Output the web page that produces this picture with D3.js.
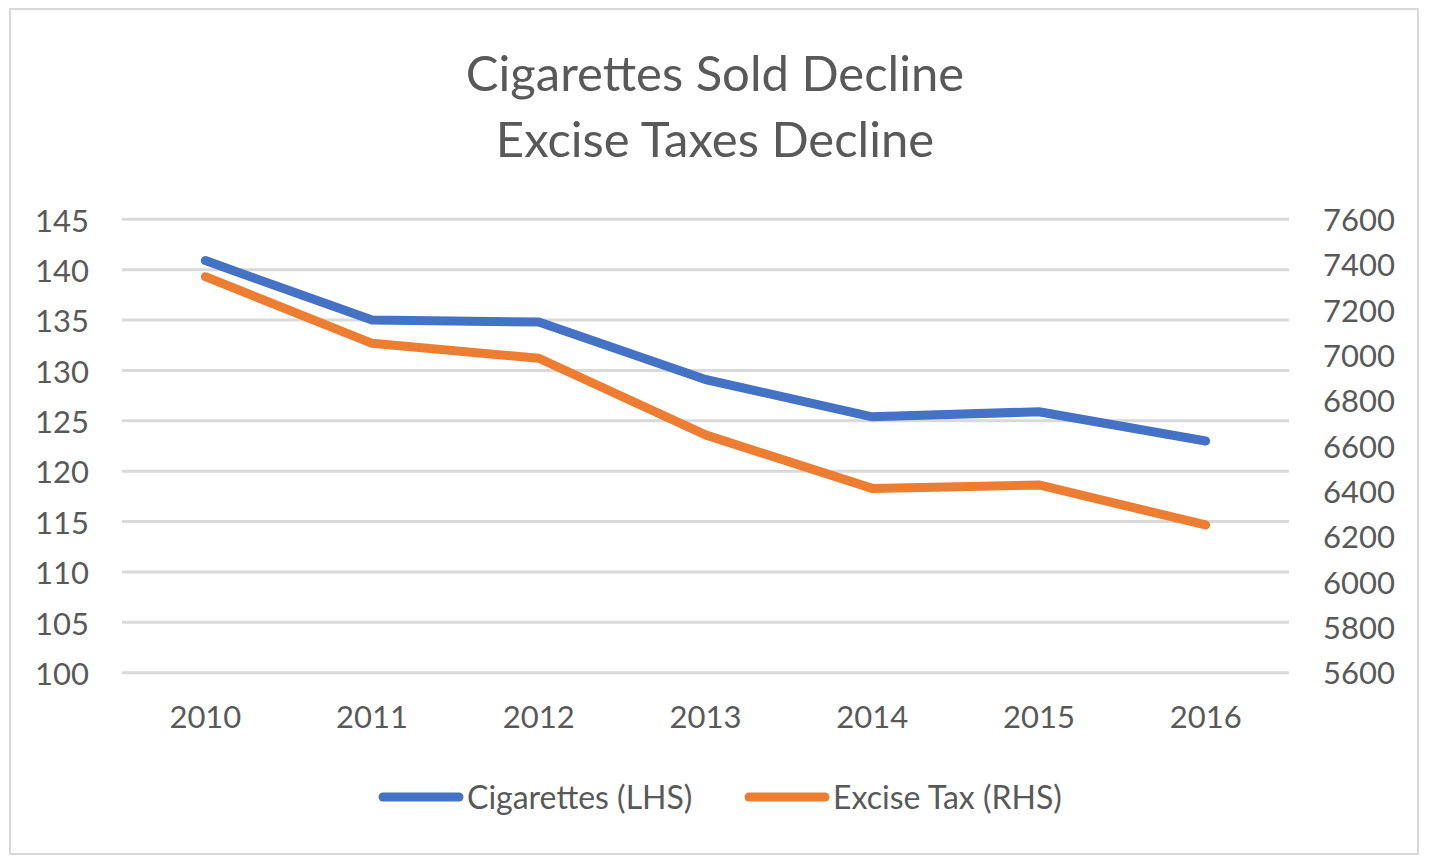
<!DOCTYPE html>
<html>
<head>
<meta charset="utf-8">
<script src="https://cdn.jsdelivr.net/npm/d3@7"></script>
<style>
  html, body { margin: 0; padding: 0; background: #fff; }
  svg { display: block; }
  text { font-family: Lato, "Open Sans", sans-serif; fill: #595959; }
</style>
</head>
<body>
<svg id="chart" width="1429" height="865"></svg>
<script>
const years = ["2010", "2011", "2012", "2013", "2014", "2015", "2016"];
const cigarettes = [140.9, 135.0, 134.8, 129.1, 125.4, 125.9, 123.0];
const exciseTax = [7347, 7053, 6987, 6649, 6413, 6428, 6252];
const leftTicks = [100, 105, 110, 115, 120, 125, 130, 135, 140, 145];
const rightTicks = [5600, 5800, 6000, 6200, 6400, 6600, 6800, 7000, 7200, 7400, 7600];
const titleLines = ["Cigarettes Sold Decline", "Excise Taxes Decline"];
const seriesNames = ["Cigarettes (LHS)", "Excise Tax (RHS)"];
const colors = ["#4472C4", "#ED7D31"];

const svg = d3.select("#chart");

// outer border
svg.append("rect").attr("x", 10).attr("y", 9).attr("width", 1408).attr("height", 845)
  .attr("fill", "#fff").attr("stroke", "#d9d9d9").attr("stroke-width", 2);

const plot = { left: 122, right: 1289, top: 219.3, bottom: 672.7 };

const x = d3.scaleBand().domain(years).range([plot.left, plot.right]);
const yL = d3.scaleLinear().domain([100, 145]).range([plot.bottom, plot.top]);
const yR = d3.scaleLinear().domain([5600, 7600]).range([plot.bottom, plot.top]);

// title
svg.append("g").selectAll("text").data(titleLines).join("text")
  .attr("x", 715).attr("y", (d, i) => 91 + i * 66)
  .attr("text-anchor", "middle").attr("font-size", 49).text(d => d);

// gridlines
svg.append("g").selectAll("line").data(leftTicks).join("line")
  .attr("x1", plot.left).attr("x2", plot.right)
  .attr("y1", d => yL(d)).attr("y2", d => yL(d))
  .attr("stroke", "#d9d9d9").attr("stroke-width", 3);

const styleText = g => g.selectAll("text")
  .attr("font-size", 31).style("font-family", "Lato, sans-serif").attr("fill", "#595959");

// left axis
const gL = svg.append("g").attr("transform", `translate(${plot.left - 33},0)`)
  .call(d3.axisLeft(yL).tickValues(leftTicks).tickSize(0).tickPadding(0));
gL.select(".domain").remove();
gL.call(styleText);
gL.selectAll("text").attr("dy", "0.38em");

// right axis
const gR = svg.append("g").attr("transform", `translate(${plot.right + 34},0)`)
  .call(d3.axisRight(yR).tickValues(rightTicks).tickSize(0).tickPadding(0).tickFormat(d3.format("d")));
gR.select(".domain").remove();
gR.call(styleText);
gR.selectAll("text").attr("dy", "0.36em");

// x axis
const gX = svg.append("g").attr("transform", `translate(0,${plot.bottom + 55})`)
  .call(d3.axisBottom(x).tickSize(0).tickPadding(0));
gX.select(".domain").remove();
gX.call(styleText);
gX.selectAll("text").attr("dy", 0);

// lines
const cx = d => x(d) + x.bandwidth() / 2;
const lineL = d3.line().x((d, i) => cx(years[i])).y(d => yL(d));
const lineR = d3.line().x((d, i) => cx(years[i])).y(d => yR(d));

svg.append("path").datum(exciseTax).attr("d", lineR)
  .attr("fill", "none").attr("stroke", colors[1]).attr("stroke-width", 9)
  .attr("stroke-linecap", "round").attr("stroke-linejoin", "round");
svg.append("path").datum(cigarettes).attr("d", lineL)
  .attr("fill", "none").attr("stroke", colors[0]).attr("stroke-width", 9)
  .attr("stroke-linecap", "round").attr("stroke-linejoin", "round");

// legend
const legendItems = [
  { name: seriesNames[0], color: colors[0], x0: 383 },
  { name: seriesNames[1], color: colors[1], x0: 749 }
];
const lg = svg.append("g").selectAll("g").data(legendItems).join("g")
  .attr("transform", d => `translate(${d.x0},797)`);
lg.append("line").attr("x1", 0).attr("x2", 76).attr("y1", 0).attr("y2", 0)
  .attr("stroke", d => d.color).attr("stroke-width", 9).attr("stroke-linecap", "round");
lg.append("text").attr("x", 84).attr("dy", "0.36em").attr("font-size", 32).text(d => d.name);
</script>
</body>
</html>
